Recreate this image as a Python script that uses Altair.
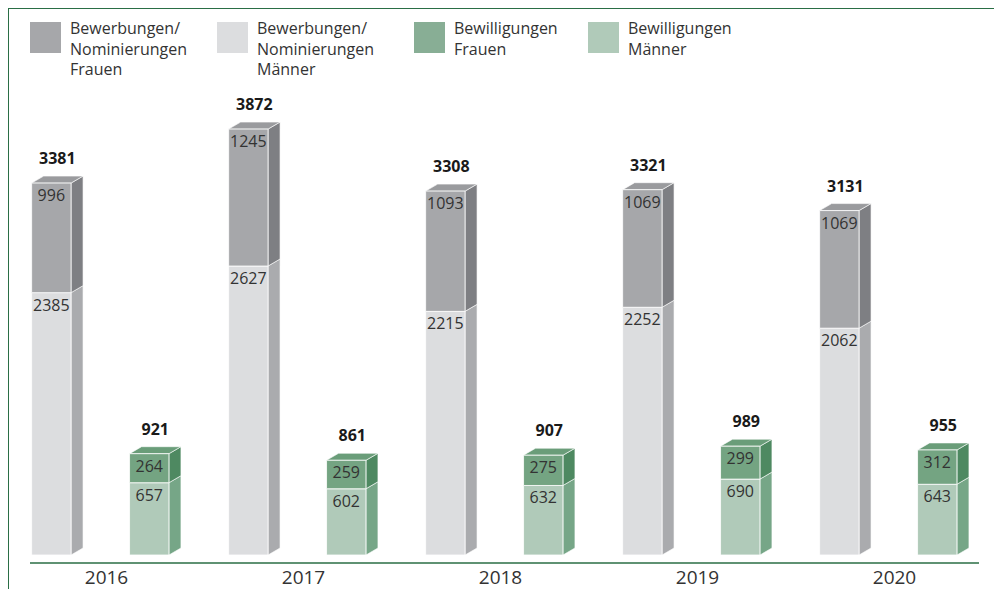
import altair as alt
import pandas as pd

# ---------------- data ----------------
YEARS = ["2016", "2017", "2018", "2019", "2020"]
APPS_WOMEN = [996, 1245, 1093, 1069, 1069]
APPS_MEN = [2385, 2627, 2215, 2252, 2062]
GRANTS_WOMEN = [264, 259, 275, 299, 312]
GRANTS_MEN = [657, 602, 632, 690, 643]
APPS_TOTAL = [3381, 3872, 3308, 3321, 3131]
GRANTS_TOTAL = [921, 861, 907, 989, 955]

SERIES = [
    "Bewerbungen/ Nominierungen Frauen",
    "Bewerbungen/ Nominierungen Männer",
    "Bewilligungen Frauen",
    "Bewilligungen Männer",
]
LEGEND_TEXT = [
    "Bewerbungen/\nNominierungen\nFrauen",
    "Bewerbungen/\nNominierungen\nMänner",
    "Bewilligungen\nFrauen",
    "Bewilligungen\nMänner",
]

# ---------------- style ----------------
FRONT = ["#a6a7aa", "#dcdddf", "#74a482", "#b0cab9"]
SIDE = ["#7e7f83", "#aaabae", "#4e8961", "#76a687"]
TOP = ["#9a9b9e", "#cfd0d2", "#6a9d79", "#a2c1ad"]
LEGEND_FILL = ["#a6a7aa", "#dcdddf", "#88ae95", "#b0cab9"]
GREEN_LINE = "#2a6e45"
TEXT = "#333333"
FONT = "Open Sans"

W, H = 986, 581
GROUP_PX = 197
PX_PER_UNIT = 0.11
ZERO_Y = 547
BAR_W = 0.2
OFFSETS = {"app": 0.12, "grant": 0.617}
DX = 12 / GROUP_PX
DY = 7 / PX_PER_UNIT
LEGEND_X = [22, 209, 406, 580]

xscale = alt.Scale(domain=[0, W / GROUP_PX], nice=False, zero=False)
yscale = alt.Scale(domain=[-(H - ZERO_Y) / PX_PER_UNIT, ZERO_Y / PX_PER_UNIT], nice=False, zero=False)

fronts, sides, tops, seglabels, totals, years = [], [], [], [], [], []
for i, yr in enumerate(YEARS):
    years.append(dict(x=i + 0.5, year=yr))
    groups = [
        ("app", APPS_MEN[i], APPS_WOMEN[i], APPS_TOTAL[i], SERIES[1], SERIES[0]),
        ("grant", GRANTS_MEN[i], GRANTS_WOMEN[i], GRANTS_TOTAL[i], SERIES[3], SERIES[2]),
    ]
    for grp, lower, upper, total, s_low, s_up in groups:
        x0 = i + OFFSETS[grp]
        x1 = x0 + BAR_W
        segs = [(s_low, 0, lower, lower), (s_up, lower, lower + upper, upper)]
        for k, (s, b, t, v) in enumerate(segs):
            sid = f"{yr}-{grp}-{k}"
            fronts.append(dict(series=s, x0=x0, x1=x1, b=b, t=t))
            sides.append(dict(seg=sid, series=s, x=x1, ya=t, yb=b))
            sides.append(dict(seg=sid, series=s, x=x1 + DX, ya=t + DY, yb=b + DY))
            seglabels.append(dict(x=(x0 + x1) / 2, y=t, text=str(v)))
        T = lower + upper
        tid = f"{yr}-{grp}"
        tops += [
            dict(seg=tid, series=s_up, x=x0, ya=T, yb=T),
            dict(seg=tid, series=s_up, x=x0 + DX, ya=T + DY, yb=T),
            dict(seg=tid, series=s_up, x=x1, ya=T + DY, yb=T),
            dict(seg=tid, series=s_up, x=x1 + DX, ya=T + DY, yb=T + DY),
        ]
        totals.append(dict(x=(x0 + x1) / 2 + DX / 2, y=total, text=str(total)))

df_front = pd.DataFrame(fronts)
df_side = pd.DataFrame(sides)
df_top = pd.DataFrame(tops)
df_seg = pd.DataFrame(seglabels)
df_tot = pd.DataFrame(totals)
df_year = pd.DataFrame(years)
one = pd.DataFrame({"a": [0]})

side_layer = alt.Chart(df_side).mark_area(orient="vertical", stroke="white", strokeWidth=0.6).encode(
    x=alt.X("x:Q", scale=xscale, axis=None),
    y=alt.Y("ya:Q", scale=yscale, axis=None),
    y2="yb:Q",
    detail="seg:N",
    color=alt.Color("series:N", scale=alt.Scale(domain=SERIES, range=SIDE), legend=None),
)
top_layer = alt.Chart(df_top).mark_area(orient="vertical", stroke="white", strokeWidth=0.6).encode(
    x=alt.X("x:Q", scale=xscale, axis=None),
    y=alt.Y("ya:Q", scale=yscale, axis=None),
    y2="yb:Q",
    detail="seg:N",
    fill=alt.Fill("series:N", scale=alt.Scale(domain=SERIES, range=TOP), legend=None),
)
front_layer = alt.Chart(df_front).mark_rect(stroke="white", strokeWidth=0.8).encode(
    x=alt.X("x0:Q", scale=xscale, axis=None),
    x2="x1:Q",
    y=alt.Y("b:Q", scale=yscale, axis=None),
    y2="t:Q",
    opacity=alt.value(1),
    stroke=alt.value("white"),
    fill=alt.Fill("series:N", scale=alt.Scale(domain=SERIES, range=FRONT), legend=None),
)
seg_text = alt.Chart(df_seg).mark_text(
    font=FONT, fontSize=16, color=TEXT, align="center", baseline="middle", dy=13
).encode(x=alt.X("x:Q", scale=xscale), y=alt.Y("y:Q", scale=yscale), text="text:N")
tot_text = alt.Chart(df_tot).mark_text(
    font=FONT, fontSize=16, fontWeight="bold", color="#1a1a1a", align="center", baseline="middle", dy=-24
).encode(x=alt.X("x:Q", scale=xscale), y=alt.Y("y:Q", scale=yscale), text="text:N")
year_text = alt.Chart(df_year).mark_text(
    font=FONT, fontSize=19, color=TEXT, align="center", baseline="middle"
).encode(x=alt.X("x:Q", scale=xscale), y=alt.value(570), text="year:N")

axis_rule = alt.Chart(one).mark_rule(color=GREEN_LINE, strokeWidth=1.5).encode(
    x=alt.value(22), x2=alt.value(971), y=alt.value(555)
)
frame_top = alt.Chart(one).mark_rule(color=GREEN_LINE, strokeWidth=2).encode(
    x=alt.value(0), x2=alt.value(W), y=alt.value(0)
)
frame_left = alt.Chart(one).mark_rule(color=GREEN_LINE, strokeWidth=2).encode(
    x=alt.value(0), y=alt.value(0), y2=alt.value(H)
)

legend_layers = []
for k, name in enumerate(SERIES):
    ldf = pd.DataFrame({"label": [LEGEND_TEXT[k]]})
    lx = LEGEND_X[k]
    legend_layers.append(
        alt.Chart(ldf).mark_rect(color=LEGEND_FILL[k]).encode(
            x=alt.value(lx), x2=alt.value(lx + 31), y=alt.value(14), y2=alt.value(45)
        )
    )
    legend_layers.append(
        alt.Chart(ldf).mark_text(
            font=FONT, fontSize=16, color=TEXT, align="left", baseline="top", lineBreak="\n", lineHeight=20.5
        ).encode(x=alt.value(lx + 40), y=alt.value(13), text="label:N")
    )

chart = alt.layer(
    side_layer, top_layer, front_layer, seg_text, tot_text, year_text,
    axis_rule, frame_top, frame_left, *legend_layers
).resolve_scale(color="independent", fill="independent").properties(
    width=W, height=H, padding=0, autosize=alt.AutoSizeParams(type="none")
).configure_view(stroke=None)

chart.save("out.html", embed_options={"renderer": "svg", "actions": False})
